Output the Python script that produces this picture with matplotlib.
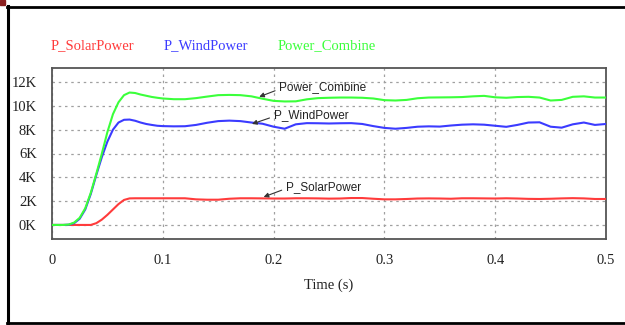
import matplotlib
matplotlib.use("Agg")
import matplotlib.pyplot as plt
from matplotlib.lines import Line2D
from matplotlib.patches import Rectangle

# ---------------- data ----------------
time_s = [0.0, 0.005, 0.01, 0.015, 0.02, 0.025, 0.03, 0.035, 0.04, 0.045,
          0.05, 0.055, 0.06, 0.065, 0.07, 0.075, 0.08, 0.085, 0.09, 0.095,
          0.1, 0.11, 0.12, 0.13, 0.14, 0.15, 0.16, 0.17, 0.18, 0.19,
          0.2, 0.21, 0.22, 0.23, 0.24, 0.25, 0.26, 0.27, 0.28, 0.29,
          0.3, 0.31, 0.32, 0.33, 0.34, 0.35, 0.36, 0.37, 0.38, 0.39,
          0.4, 0.41, 0.42, 0.43, 0.44, 0.45, 0.46, 0.47, 0.48, 0.49, 0.5]

p_solar = [0, 0, 0, 0, 0, 0, 0, 0, 150, 450,
           850, 1300, 1750, 2100, 2230, 2240, 2240, 2240, 2240, 2240,
           2240, 2240, 2240, 2150, 2120, 2120, 2200, 2240, 2240, 2230,
           2220, 2220, 2240, 2240, 2230, 2210, 2220, 2260, 2260, 2200,
           2150, 2150, 2180, 2220, 2230, 2220, 2200, 2240, 2240, 2230,
           2220, 2240, 2220, 2190, 2180, 2200, 2230, 2250, 2230, 2180, 2180]

p_wind = [0, 0, 0, 20, 150, 520, 1300, 2600, 4200, 5700,
          7000, 8000, 8600, 8830, 8850, 8750, 8600, 8480, 8400, 8330,
          8300, 8280, 8290, 8400, 8580, 8720, 8760, 8720, 8600, 8500,
          8250, 8080, 8450, 8550, 8540, 8520, 8540, 8550, 8480, 8300,
          8150, 8080, 8150, 8250, 8280, 8260, 8350, 8420, 8450, 8420,
          8330, 8240, 8400, 8600, 8620, 8250, 8170, 8450, 8600, 8400, 8480]

power_combine = [0, 0, 0, 30, 200, 600, 1400, 2700, 4300, 6000,
                 7800, 9300, 10300, 10900, 11120, 11080, 10950, 10850, 10750, 10680,
                 10620, 10560, 10560, 10650, 10780, 10900, 10920, 10900, 10800, 10600,
                 10420, 10370, 10380, 10550, 10650, 10680, 10700, 10700, 10680, 10620,
                 10480, 10450, 10500, 10640, 10700, 10710, 10720, 10740, 10800, 10840,
                 10720, 10680, 10740, 10760, 10700, 10450, 10500, 10760, 10800, 10700, 10700]

series_names = ["P_SolarPower", "P_WindPower", "Power_Combine"]
y_ticks = [0, 2000, 4000, 6000, 8000, 10000, 12000]
y_tick_labels = ["0K", "2K", "4K", "6K", "8K", "10K", "12K"]
x_ticks = [0, 0.1, 0.2, 0.3, 0.4, 0.5]
x_tick_labels = ["0", "0.1", "0.2", "0.3", "0.4", "0.5"]

# ---------------- figure ----------------
W, H = 625, 325
fig = plt.figure(figsize=(6.25, 3.25), dpi=100)
fig.patch.set_facecolor("white")

ax = fig.add_axes([52 / W, 1 - 239 / H, (606 - 52) / W, (239 - 68) / H])

c_red, c_blue, c_green = "#ff3b3b", "#3b3bff", "#3bff3b"
ax.plot(time_s, p_solar, color=c_red, lw=1.5, zorder=3)
ax.plot(time_s, p_wind, color=c_blue, lw=1.5, zorder=4)
ax.plot(time_s, power_combine, color=c_green, lw=1.5, zorder=5)

ax.set_xlim(0, 0.5)
ax.set_ylim(-1180, 13180)
ax.set_xticks(x_ticks)
ax.set_xticklabels(x_tick_labels)
ax.set_yticks(y_ticks)
ax.set_yticklabels(y_tick_labels)

serif = ["Liberation Serif", "DejaVu Serif"]
sans = ["Liberation Sans", "DejaVu Sans"]
for lab in ax.get_xticklabels() + ax.get_yticklabels():
    lab.set_family(serif)
    lab.set_fontsize(10.5)
    lab.set_color("#222222")
ax.tick_params(axis="both", length=0)
ax.tick_params(axis="x", pad=11)
ax.tick_params(axis="y", pad=11)

ax.grid(True, color="#a0a0a0", linestyle=(0, (2, 3)), lw=0.9)
for sp in ax.spines.values():
    sp.set_color("#555555")
    sp.set_linewidth(1.3)

ax.set_xlabel("Time (s)", family=serif, fontsize=10.5, color="#222222", labelpad=8)

# legend-like header text
fig.text(51 / W, 1 - 46 / H, series_names[0], color=c_red, family=serif,
         fontsize=10.5, ha="left", va="center")
fig.text(164 / W, 1 - 46 / H, series_names[1], color=c_blue, family=serif,
         fontsize=10.5, ha="left", va="center")
fig.text(278 / W, 1 - 46 / H, series_names[2], color=c_green, family=serif,
         fontsize=10.5, ha="left", va="center")

# in-plot annotations
arrow = dict(arrowstyle="-|>", color="#333333", lw=0.8, mutation_scale=7,
             shrinkA=1, shrinkB=0, relpos=(0, 0.35))
ax.annotate(series_names[2], xy=(0.187, 10760), xytext=(0.205, 11550),
            family=sans, fontsize=8.5, color="#222222", ha="left", va="center",
            arrowprops=arrow, zorder=6)
ax.annotate(series_names[1], xy=(0.1805, 8480), xytext=(0.200, 9250),
            family=sans, fontsize=8.5, color="#222222", ha="left", va="center",
            arrowprops=arrow, zorder=6)
ax.annotate(series_names[0], xy=(0.191, 2350), xytext=(0.211, 3200),
            family=sans, fontsize=8.5, color="#222222", ha="left", va="center",
            arrowprops=arrow, zorder=6)

# outer frame
fig.add_artist(Line2D([7.5 / W, 7.5 / W], [1 - 6 / H, 1 - 323 / H],
                      color="black", lw=2.2, transform=fig.transFigure))
fig.add_artist(Line2D([7 / W, 1.0], [1 - 6.5 / H, 1 - 6.5 / H],
                      color="black", lw=2.0, transform=fig.transFigure))
fig.add_artist(Line2D([7 / W, 1.0], [1 - 322.5 / H, 1 - 322.5 / H],
                      color="black", lw=2.0, transform=fig.transFigure))
fig.add_artist(Rectangle((0, 1 - 5 / H), 5 / W, 5 / H, color="#8b2020",
                         transform=fig.transFigure))

fig.savefig("out.png", dpi=100)
